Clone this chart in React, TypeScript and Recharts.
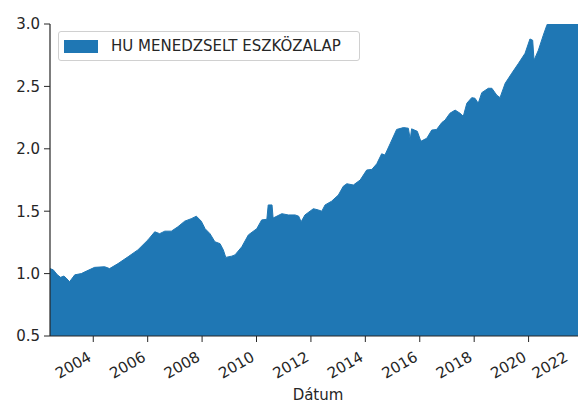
import { Area, AreaChart, Legend, XAxis, YAxis } from "recharts"

const seriesName = "HU MENEDZSELT ESZKÖZALAP"

// decimal years
const dates = [
  2002.41, 2002.53, 2002.68, 2002.8, 2002.92, 2003.0, 2003.13, 2003.32, 2003.56, 2003.75,
  2004.05, 2004.42, 2004.6, 2004.91, 2005.28, 2005.64, 2006.01, 2006.26, 2006.44, 2006.63,
  2006.87, 2007.11, 2007.36, 2007.6, 2007.79, 2007.97, 2008.11, 2008.29, 2008.47, 2008.66,
  2008.78, 2008.87, 2009.09, 2009.21, 2009.46, 2009.7, 2010.01, 2010.19, 2010.38, 2010.43,
  2010.57, 2010.61, 2010.93, 2011.17, 2011.42, 2011.55, 2011.64, 2011.78, 2012.09, 2012.27,
  2012.4, 2012.52, 2012.76, 2013.01, 2013.19, 2013.32, 2013.56, 2013.81, 2014.05, 2014.24,
  2014.42, 2014.6, 2014.72, 2014.91, 2015.15, 2015.4, 2015.58, 2015.65, 2015.7, 2015.91,
  2016.04, 2016.26, 2016.44, 2016.62, 2016.81, 2016.93, 2017.11, 2017.3, 2017.48, 2017.6,
  2017.73, 2017.91, 2018.03, 2018.15, 2018.28, 2018.52, 2018.65, 2018.83, 2018.95, 2019.14,
  2019.38, 2019.63, 2019.87, 2020.05, 2020.15, 2020.2, 2020.36, 2020.54, 2020.67, 2020.9,
  2021.2, 2021.6, 2022.11,
]

const values = [
  1.04, 1.03, 0.99, 0.97, 0.98, 0.965, 0.935, 0.99, 1.0, 1.02,
  1.05, 1.055, 1.04, 1.08, 1.135, 1.19, 1.27, 1.335, 1.32, 1.34,
  1.34, 1.375, 1.42, 1.44, 1.46, 1.42, 1.36, 1.32, 1.255, 1.24,
  1.19, 1.13, 1.14, 1.15, 1.215, 1.31, 1.36, 1.43, 1.435, 1.55,
  1.55, 1.445, 1.48, 1.47, 1.47, 1.46, 1.415, 1.47, 1.52, 1.51,
  1.5, 1.55, 1.58, 1.63, 1.7, 1.72, 1.71, 1.75, 1.83, 1.835,
  1.88, 1.96, 1.95, 2.04, 2.155, 2.17, 2.165, 2.075, 2.16, 2.14,
  2.06, 2.085, 2.15, 2.155, 2.21, 2.23, 2.285, 2.31, 2.285, 2.26,
  2.365, 2.41, 2.405, 2.365, 2.45, 2.485, 2.485, 2.43, 2.41, 2.525,
  2.605, 2.685, 2.765, 2.88, 2.87, 2.71, 2.79, 2.91, 2.99, 3.08,
  3.15, 3.22, 3.3,
]

const xTicks = [2004, 2006, 2008, 2010, 2012, 2014, 2016, 2018, 2020, 2022]
const yTicks = [0.5, 1.0, 1.5, 2.0, 2.5, 3.0]

const data = dates.map((t, i) => ({ t, value: values[i] }))

const blue = "#1f77b4"
const ink = "#262626"
const font = "DejaVu Sans"

function DateTick(props: any) {
  const { x, y, payload } = props
  return (
    <text
      x={x - 1}
      y={y}
      transform={`rotate(-30 ${x - 1} ${y})`}
      textAnchor="end"
      fontSize={15}
      fontFamily={font}
      fill={ink}
    >
      {payload.value}
    </text>
  )
}

function LegendBox() {
  return (
    <div
      style={{
        display: "flex",
        alignItems: "center",
        width: 302,
        height: 30,
        boxSizing: "border-box",
        border: "1px solid #d0d0d0",
        borderRadius: 3,
        background: "rgba(255,255,255,0.8)",
        fontFamily: font,
        fontSize: 15,
        color: ink,
      }}
    >
      <span
        style={{
          display: "inline-block",
          width: 34,
          height: 13,
          background: blue,
          marginLeft: 5,
          marginRight: 13,
        }}
      />
      <span>{seriesName}</span>
    </div>
  )
}

export default function App() {
  return (
    <div
      style={{
        position: "absolute",
        left: 0,
        top: 0,
        width: 578,
        height: 404,
        overflow: "hidden",
        background: "#fff",
      }}
    >
      <AreaChart
        width={586}
        height={404}
        data={data}
        margin={{ top: 24, right: 0, bottom: 4, left: 0 }}
      >
        <XAxis
          dataKey="t"
          type="number"
          domain={[2002.41, 2022.11]}
          ticks={xTicks}
          allowDataOverflow
          height={64}
          tickSize={6}
          tickMargin={18}
          tickLine={{ stroke: ink }}
          axisLine={{ stroke: ink, strokeWidth: 1.2 }}
          tick={<DateTick />}
          label={{
            value: "Dátum",
            position: "insideBottom",
            offset: 0,
            fontSize: 15,
            fontFamily: font,
            fill: ink,
          }}
        />
        <XAxis
          xAxisId="top"
          orientation="top"
          dataKey="t"
          type="number"
          domain={[2002.41, 2022.11]}
          height={0}
          tick={false}
          tickLine={false}
          axisLine={{ stroke: ink, strokeWidth: 1.2 }}
        />
        <YAxis
          domain={[0.5, 3.0]}
          ticks={yTicks}
          allowDataOverflow
          width={50}
          tickSize={6}
          tickMargin={4}
          tickLine={{ stroke: ink }}
          axisLine={{ stroke: ink, strokeWidth: 1.2 }}
          tick={{ fontSize: 15, fontFamily: font, fill: ink }}
          tickFormatter={(v: number) => v.toFixed(1)}
        />
        <Legend
          layout="horizontal"
          verticalAlign="middle"
          align="center"
          wrapperStyle={{ position: "absolute", left: 58, top: 31, width: 302 }}
          content={() => <LegendBox />}
        />
        <Area
          type="linear"
          dataKey="value"
          name={seriesName}
          stroke={blue}
          strokeWidth={1}
          fill={blue}
          fillOpacity={1}
          baseValue="dataMin"
          isAnimationActive={false}
        />
      </AreaChart>
    </div>
  )
}
